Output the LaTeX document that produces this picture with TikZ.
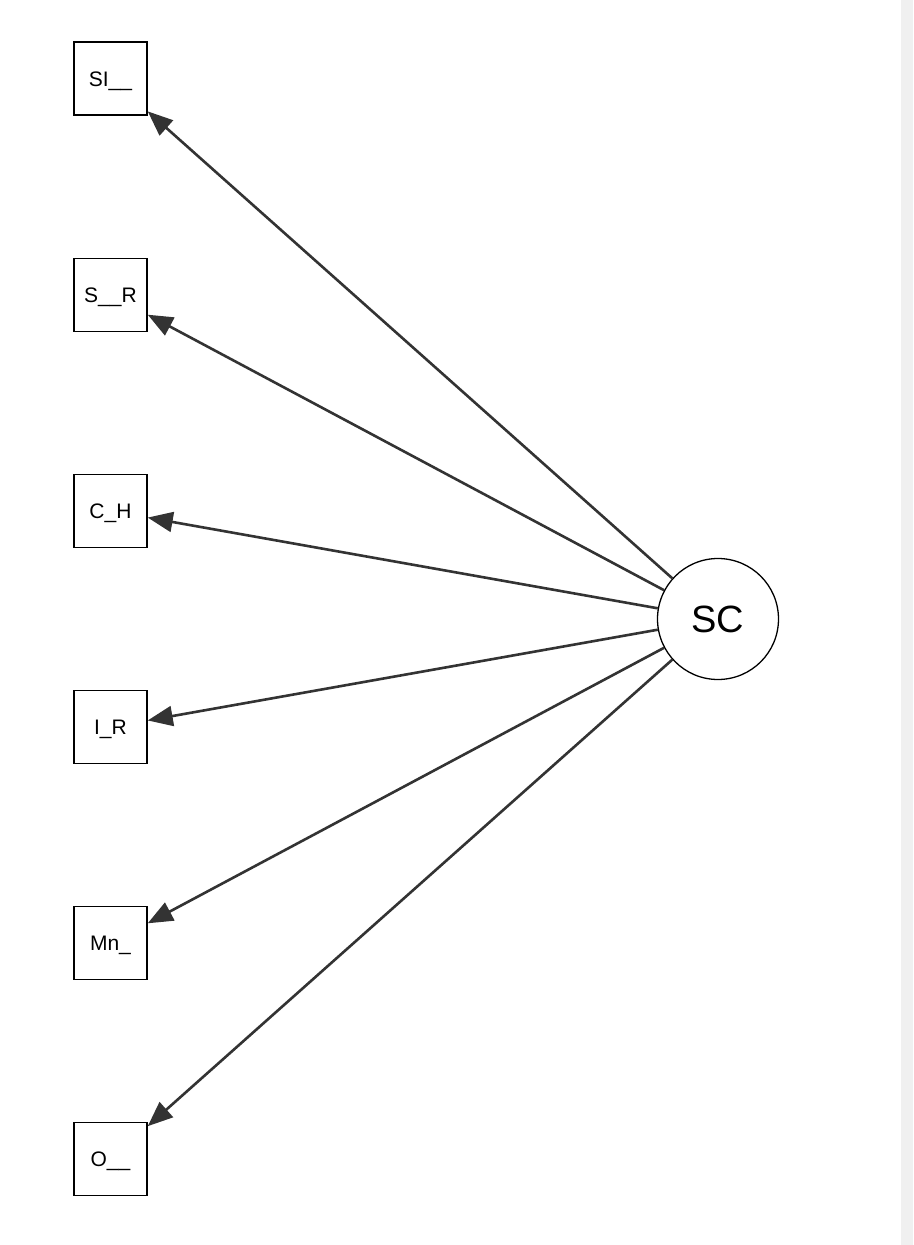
\documentclass[tikz,border=0pt]{standalone}
\usepackage{fontspec}
\setmainfont{Liberation Sans}
\usetikzlibrary{arrows.meta}
\definecolor{edgegray}{HTML}{333333}
\definecolor{stripgray}{HTML}{F0F0F0}
\tikzset{
  obs/.style={draw=black, line width=1.5pt, fill=white, minimum width=73pt, minimum height=73pt, inner sep=0pt, text height=15pt, text depth=0pt, font=\fontsize{21pt}{23pt}\selectfont},
  lat/.style={draw=black, line width=1.3pt, fill=white, circle, minimum size=121pt, inner sep=0pt, font=\fontsize{38pt}{40pt}\selectfont},
  load/.style={draw=edgegray, line width=2.6pt, -{Triangle[length=25pt,width=20pt]}}
}
\begin{document}
\begin{tikzpicture}[x=1pt,y=-1pt]
\useasboundingbox (0,0) rectangle (913,1245);
\fill[white] (0,0) rectangle (901,1245);
\fill[stripgray] (901,0) rectangle (913,1245);
\node[obs] (SI) at (110.5,78.5) {SI\_\_};
\node[obs] (SR) at (110.5,295) {S\_\_R};
\node[obs] (CH) at (110.5,511) {C\_H};
\node[obs] (IR) at (110.5,727) {I\_R};
\node[obs] (Mn) at (110.5,943) {Mn\_};
\node[obs] (O) at (110.5,1159) {O\_\_};
\node[lat] (SC) at (718,619) {SC};
\foreach \t in {SI,SR,CH,IR,Mn,O} {
  \draw[load] (SC) -- (\t);
}
\end{tikzpicture}
\end{document}
